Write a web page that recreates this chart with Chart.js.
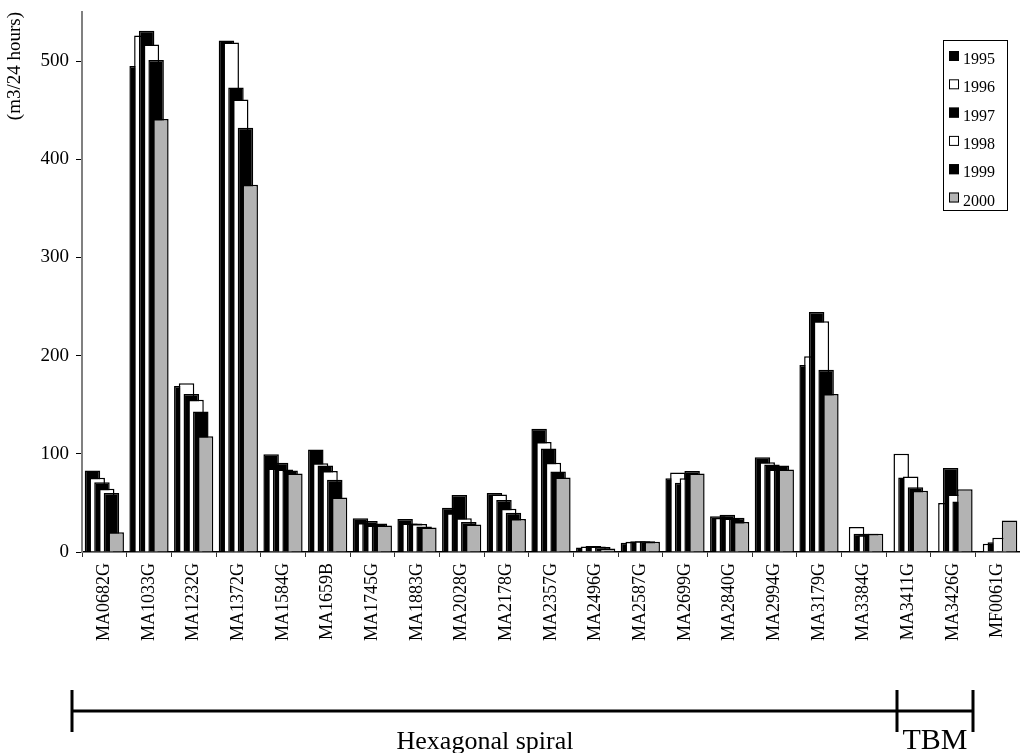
<!DOCTYPE html>
<html>
<head>
<meta charset="utf-8">
<script src="https://cdn.jsdelivr.net/npm/chart.js@4/dist/chart.umd.min.js"></script>
<style>
  html, body { margin: 0; padding: 0; background: #ffffff; }
  #wrap { width: 1020px; height: 753px; }
</style>
</head>
<body>
<div id="wrap"><canvas id="chart" width="1020" height="753"></canvas></div>
<script>
// Wells (category axis)
const wells = ['MA0682G', 'MA1033G', 'MA1232G', 'MA1372G', 'MA1584G', 'MA1659B', 'MA1745G',
  'MA1883G', 'MA2028G', 'MA2178G', 'MA2357G', 'MA2496G', 'MA2587G', 'MA2699G', 'MA2840G',
  'MA2994G', 'MA3179G', 'MA3384G', 'MA3411G', 'MA3426G', 'MF0061G'];

// Series labels
const years = ['1995', '1996', '1997', '1998', '1999', '2000'];

// Pumped volume per well, m3 per 24 hours (null = no measurement)
const q1995 = [83, 495, 169, 521, 99.5, 104.5, 34.5, 33.5, 45, 60, 125.5, 4.5, 9.5, 75, 36.5, 96.5, 190.5, null, null, null, null];
const q1996 = [75.5, 526, 172, 519, 85, 90.5, 29.5, 29, 39.5, 58.5, 112, 5.5, 10.5, 81, 35, 91.5, 199.5, 25.5, 100, 50, 8.5];
const q1997 = [71, 531, 161, 473, 91, 88, 31.5, 29, 58, 53, 105.5, 6, 11, 70.5, 38, 89, 244.5, 18.5, 76, 85.5, 10];
const q1998 = [64.5, 517, 155, 461, 84, 82.5, 27, 28.5, 34.5, 44, 91, 5.5, 11, 75, 34, 84, 235, 17, 77, 58.5, 14.5];
const q1999 = [60, 501, 143, 432, 83, 73.5, 29, 26, 30.5, 40, 82, 5, 11, 82.5, 35, 88, 185.5, 18.5, 66, 51.5, null];
const q2000 = [20, 441, 118, 374, 80, 55.5, 27, 25, 28, 33.5, 76, 3.5, 10.5, 80, 30.5, 84, 161, 18.5, 62.5, 64, 32];

// Axis ticks
const yTickStep = 100;
const yMin = 0;
const yMax = 550;

const series = [q1995, q1996, q1997, q1998, q1999, q2000];
const fills = ['#000000', '#ffffff', '#000000', '#ffffff', '#000000', '#b3b3b3'];
const serif = '"Liberation Serif", "Times New Roman", serif';

// Later years are painted over earlier ones so each bar overlaps the one on its left.
const paintInSeriesOrder = {
  id: 'paintInSeriesOrder',
  beforeDatasetsDraw(chart) {
    const ctx = chart.ctx;
    const a = chart.chartArea;
    ctx.save();
    ctx.beginPath();
    ctx.rect(a.left, a.top - 2, a.right - a.left, a.bottom - a.top + 2);
    ctx.clip();
    for (let i = 0; i < chart.data.datasets.length; i++) {
      const meta = chart.getDatasetMeta(i);
      if (meta.visible !== false) meta.controller.draw();
    }
    ctx.restore();
    return false;
  }
};

// Boxed legend in the upper right corner and the drilling-method bracket below the axis.
const decorations = {
  id: 'decorations',
  afterDraw(chart) {
    const ctx = chart.ctx;
    ctx.save();

    // legend
    const lx = 943, ly = 40, lw = 64, lh = 170, row = 28.3;
    ctx.strokeStyle = '#000';
    ctx.lineWidth = 1;
    ctx.strokeRect(lx + 0.5, ly + 0.5, lw, lh);
    ctx.font = '16px ' + serif;
    ctx.textAlign = 'left';
    ctx.textBaseline = 'alphabetic';
    chart.data.datasets.forEach((d, i) => {
      const top = ly + 11 + i * row;
      ctx.fillStyle = d.backgroundColor;
      ctx.fillRect(lx + 6, top, 10, 10);
      ctx.strokeStyle = '#000';
      ctx.strokeRect(lx + 6.5, top + 0.5, 9, 9);
      ctx.fillStyle = '#000';
      ctx.fillText(d.label, lx + 20, top + 13);
    });

    // bracket
    ctx.strokeStyle = '#000';
    ctx.lineWidth = 3;
    ctx.beginPath();
    ctx.moveTo(72, 711); ctx.lineTo(973, 711);
    [72, 897, 973].forEach(x => { ctx.moveTo(x, 690); ctx.lineTo(x, 732); });
    ctx.stroke();

    ctx.fillStyle = '#000';
    ctx.textAlign = 'center';
    ctx.font = '26px ' + serif;
    ctx.fillText('Hexagonal spiral', 485, 749);
    ctx.font = '30px ' + serif;
    ctx.fillText('TBM', 935, 749);
    ctx.restore();
  }
};

new Chart(document.getElementById('chart'), {
  type: 'bar',
  data: {
    labels: wells,
    datasets: years.map((y, i) => ({
      label: y,
      data: series[i],
      backgroundColor: fills[i],
      borderColor: '#000000',
      borderWidth: 1.5,
      categoryPercentage: 0.638,
      barPercentage: 3.26
    }))
  },
  options: {
    responsive: false,
    devicePixelRatio: 1,
    animation: false,
    layout: { padding: { top: 12, left: 0, right: 0, bottom: 0 } },
    plugins: {
      legend: { display: false },
      tooltip: { enabled: false }
    },
    scales: {
      x: {
        grid: { offset: true, drawOnChartArea: false, drawTicks: true, tickLength: 5, color: '#333', lineWidth: 1 },
        border: { color: '#000', width: 1.5 },
        ticks: { color: '#000', font: { family: serif, size: 18 }, minRotation: 90, maxRotation: 90, autoSkip: false, padding: 6 },
        afterFit(scale) {
          scale.height = 201;
          scale.paddingLeft = 0;
          scale.paddingRight = 0;
        }
      },
      y: {
        min: yMin,
        max: yMax,
        grid: { drawOnChartArea: false, drawTicks: true, tickLength: 6, color: '#000', lineWidth: 1 },
        border: { color: '#808080', width: 2 },
        ticks: { stepSize: yTickStep, includeBounds: false, color: '#000', font: { family: serif, size: 19 }, padding: 7 },
        title: { display: true, text: '(m3/24 hours)', align: 'end', color: '#000', font: { family: serif, size: 19 }, padding: { top: 4, bottom: 4 } },
        afterFit(scale) {
          scale.width = 82;
          scale.paddingTop = 0;
          scale.paddingBottom = 0;
        }
      }
    }
  },
  plugins: [paintInSeriesOrder, decorations]
});
</script>
</body>
</html>
